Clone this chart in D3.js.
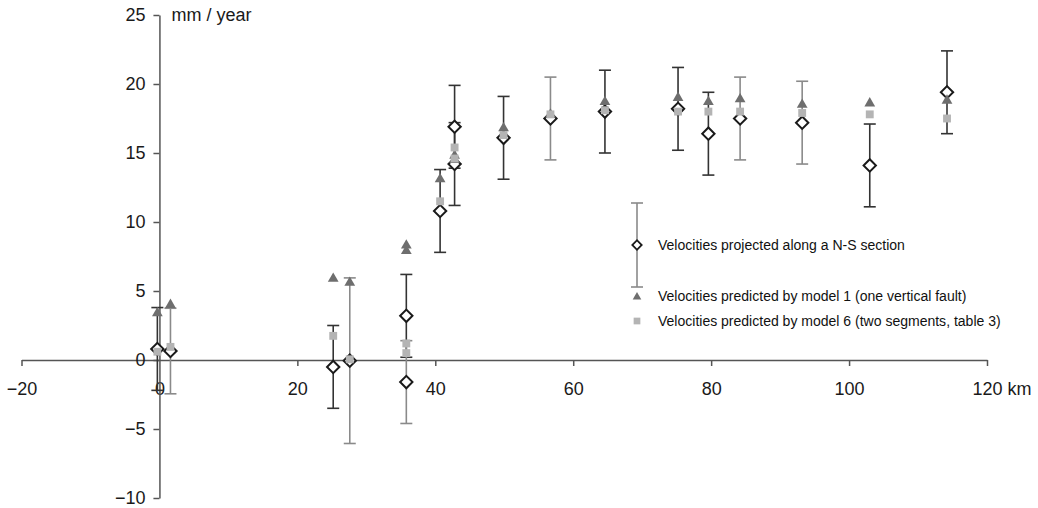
<!DOCTYPE html>
<html>
<head>
<meta charset="utf-8">
<script src="https://cdn.jsdelivr.net/npm/d3@7"></script>
<style>
  body { margin: 0; background: #fff; }
  svg { display: block; }
  .axis path, .axis line { stroke: #555; stroke-width: 1.5; }
  .axis text { font-family: "Liberation Sans", Arial, sans-serif; font-size: 18px; fill: #1a1a1a; }
  .legend text { font-family: "Liberation Sans Narrow", "Liberation Sans", sans-serif; font-size: 15.5px; fill: #111; }
</style>
</head>
<body>
<svg></svg>
<script>
// distance along the N-S section (km)
var stationKm = [-0.3, 1.6, 25.2, 27.6, 35.8, 35.8, 40.7, 42.8, 42.8, 49.9, 56.7, 64.6, 75.2, 79.6, 84.2, 93.2, 103.0, 114.2];
// projected velocities (mm/yr) and their uncertainty
var observed = [0.8, 0.65, -0.5, -0.05, 3.2, -1.6, 10.8, 16.9, 14.2, 16.1, 17.5, 18.0, 18.2, 16.4, 17.5, 17.2, 14.1, 19.4];
var obsError = [3.0, 3.1, 3.0, 6.0, 3.0, 3.0, 3.0, 3.0, 3.0, 3.0, 3.0, 3.0, 3.0, 3.0, 3.0, 3.0, 3.0, 3.0];
// which network the station belongs to (error bar shade)
var network = ["a", "b", "a", "b", "a", "b", "a", "a", "a", "a", "b", "a", "a", "a", "b", "b", "a", "a"];
// model predictions
var model1 = [3.4, 4.0, 5.9, 5.6, 8.3, 7.9, 13.1, 14.8, 14.5, 16.8, 17.8, 18.7, 19.0, 18.7, 18.9, 18.5, 18.6, 18.8];
var model6 = [0.6, 0.95, 1.75, 0.05, 1.2, 0.5, 11.5, 15.4, 14.6, 16.3, 17.8, 18.1, 18.0, 18.0, 18.0, 17.9, 17.8, 17.5];

var xTicks = [-20, 0, 20, 40, 60, 80, 100, 120];
var yTicks = [-10, -5, 0, 5, 10, 15, 20, 25];
var legendLabels = [
  "Velocities projected along a N-S section",
  "Velocities predicted by model 1 (one vertical fault)",
  "Velocities predicted by model 6 (two segments, table 3)"
];

var width = 1038, height = 508;
var svg = d3.select("svg").attr("width", width).attr("height", height);

var x = d3.scaleLinear().domain([-20, 120]).range([21.5, 987]);
var y = d3.scaleLinear().domain([-10, 25]).range([498, 15]);

var barColor = d3.scaleOrdinal().domain(["a", "b"]).range(["#333", "#8a8a8a"]);

var data = stationKm.map(function(k, i) {
  return { km: k, v: observed[i], e: obsError[i], net: network[i], m1: model1[i], m6: model6[i] };
});

// x axis through zero
var xAxis = svg.append("g")
  .attr("class", "axis")
  .attr("transform", "translate(0," + y(0) + ")")
  .call(d3.axisBottom(x).tickValues(xTicks).tickSize(6).tickSizeOuter(0).tickPadding(16));
xAxis.selectAll(".tick").filter(function(d) { return d === 0; }).select("line").remove();
xAxis.selectAll(".tick").filter(function(d) { return d === 120; }).select("text")
  .attr("text-anchor", "start").attr("dx", -15).text("120 km");

// y axis at x = 0
var yAxis = svg.append("g")
  .attr("class", "axis")
  .attr("transform", "translate(" + x(0) + ",0)")
  .call(d3.axisLeft(y).tickValues(yTicks).tickSize(6).tickSizeOuter(0).tickPadding(8));

svg.append("text")
  .attr("x", x(0) + 12)
  .attr("y", y(25) + 6)
  .attr("font-family", "Liberation Sans, Arial, sans-serif")
  .attr("font-size", 18)
  .attr("fill", "#1a1a1a")
  .text("mm / year");

var diamond = d3.symbol().type(d3.symbolSquare).size(76);
var tri = d3.symbol().type(d3.symbolTriangle).size(50);
var sq = d3.symbol().type(d3.symbolSquare).size(62);

var g = svg.append("g");

// error bars
var bars = g.selectAll(".bar").data(data).enter().append("g")
  .attr("class", "bar")
  .attr("stroke", function(d) { return barColor(d.net); })
  .attr("stroke-width", 1.6);
bars.append("line")
  .attr("x1", function(d) { return x(d.km); }).attr("x2", function(d) { return x(d.km); })
  .attr("y1", function(d) { return y(d.v + d.e); }).attr("y2", function(d) { return y(d.v - d.e); });
bars.append("line")
  .attr("x1", function(d) { return x(d.km) - 6; }).attr("x2", function(d) { return x(d.km) + 6; })
  .attr("y1", function(d) { return y(d.v + d.e); }).attr("y2", function(d) { return y(d.v + d.e); });
bars.append("line")
  .attr("x1", function(d) { return x(d.km) - 6; }).attr("x2", function(d) { return x(d.km) + 6; })
  .attr("y1", function(d) { return y(d.v - d.e); }).attr("y2", function(d) { return y(d.v - d.e); });

// observed diamonds
g.selectAll(".obs").data(data).enter().append("path")
  .attr("class", "obs")
  .attr("d", diamond)
  .attr("transform", function(d) { return "translate(" + x(d.km) + "," + y(d.v) + ") rotate(45)"; })
  .attr("fill", "#fff").attr("stroke", "#1a1a1a").attr("stroke-width", 2);

// model 1 triangles
g.selectAll(".m1").data(data).enter().append("path")
  .attr("class", "m1")
  .attr("d", tri)
  .attr("transform", function(d) { return "translate(" + x(d.km) + "," + y(d.m1) + ")"; })
  .attr("fill", "#6e6e6e");

// model 6 squares
g.selectAll(".m6").data(data).enter().append("path")
  .attr("class", "m6")
  .attr("d", sq)
  .attr("transform", function(d) { return "translate(" + x(d.km) + "," + y(d.m6) + ")"; })
  .attr("fill", "#b4b4b4");

// legend
var leg = svg.append("g").attr("class", "legend").attr("transform", "translate(637,0)");
leg.append("line").attr("x1", 0).attr("x2", 0).attr("y1", 203).attr("y2", 287).attr("stroke", "#8a8a8a").attr("stroke-width", 1.6);
leg.append("line").attr("x1", -6).attr("x2", 6).attr("y1", 203).attr("y2", 203).attr("stroke", "#8a8a8a").attr("stroke-width", 1.6);
leg.append("line").attr("x1", -6).attr("x2", 6).attr("y1", 287).attr("y2", 287).attr("stroke", "#8a8a8a").attr("stroke-width", 1.6);
leg.append("path").attr("d", d3.symbol().type(d3.symbolSquare).size(44))
  .attr("transform", "translate(0,245) rotate(45)")
  .attr("fill", "#fff").attr("stroke", "#1a1a1a").attr("stroke-width", 1.8);
leg.append("path").attr("d", d3.symbol().type(d3.symbolTriangle).size(32))
  .attr("transform", "translate(0,297)").attr("fill", "#6e6e6e");
leg.append("path").attr("d", d3.symbol().type(d3.symbolSquare).size(45))
  .attr("transform", "translate(0,321)").attr("fill", "#b4b4b4");

var labG = leg.append("g").attr("transform", "translate(21,0)");
var labs = labG.selectAll("text.lab").data(legendLabels).enter().append("text")
  .attr("class", "lab")
  .attr("x", 0)
  .attr("y", function(d, i) { return [245, 296, 321][i]; })
  .attr("dy", "0.35em")
  .text(function(d) { return d; });

// squeeze the labels to the condensed width of the original
var longest = d3.max(labs.nodes(), function(n) { return n.getComputedTextLength(); });
var k = Math.min(1, 343 / longest);
labs.attr("transform", function(d, i) {
  var yy = [245, 296, 321][i];
  return "translate(0," + yy + ") scale(" + k + ",1) translate(0," + (-yy) + ")";
});
</script>
</body>
</html>
